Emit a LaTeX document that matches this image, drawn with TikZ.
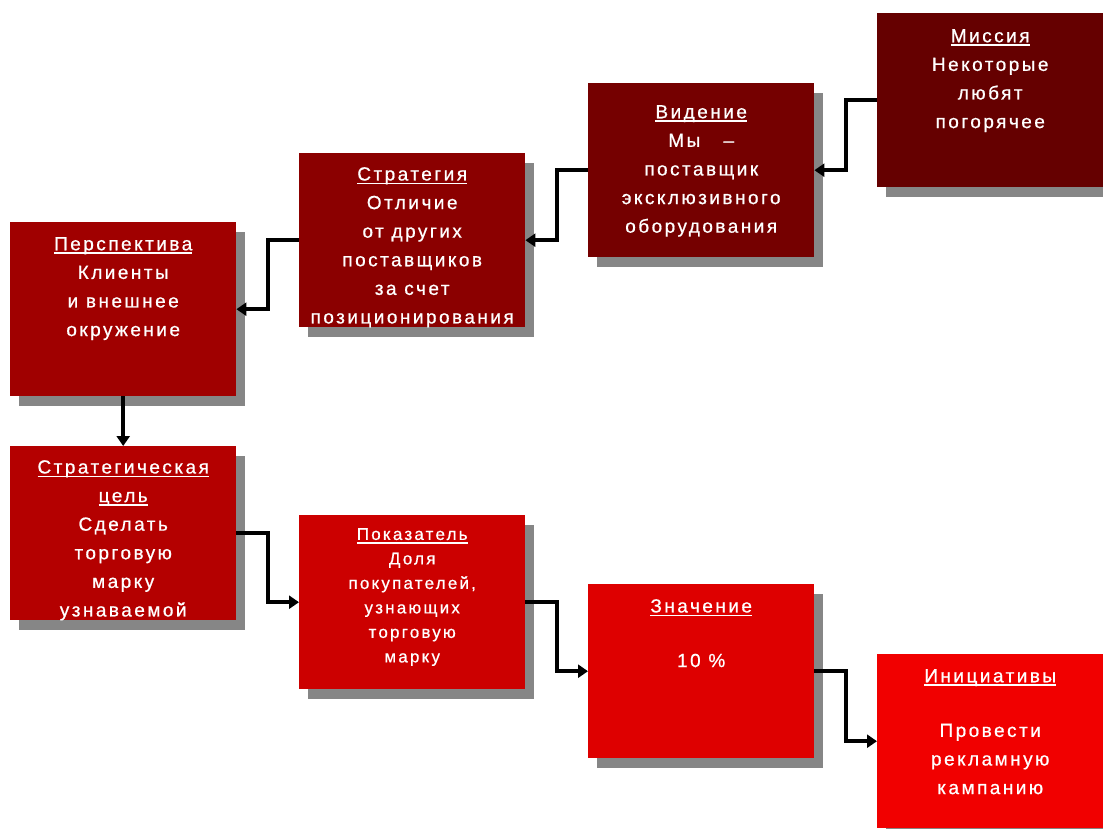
\documentclass[tikz,border=0pt]{standalone}
\usepackage{fontspec}
\setmainfont{Liberation Sans}[LetterSpace=13,FakeBold=0.7]
\usetikzlibrary{arrows.meta,shadows,calc}

\definecolor{cMis}{RGB}{101,0,0}
\definecolor{cVis}{RGB}{117,0,0}
\definecolor{cStr}{RGB}{139,0,0}
\definecolor{cPer}{RGB}{160,0,0}
\definecolor{cGoal}{RGB}{180,0,0}
\definecolor{cKpi}{RGB}{204,0,0}
\definecolor{cVal}{RGB}{222,0,0}
\definecolor{cIni}{RGB}{241,0,0}
\definecolor{shade}{RGB}{134,134,134}

% underlined heading with a heavier rule
\newcommand\headline[1]{\setbox0\hbox{#1}\rlap{\rule[-4pt]{\wd0}{1.8pt}}\box0}

\tikzset{
  card/.style={anchor=north west, minimum width=226pt, minimum height=174pt,
    inner sep=0pt, draw=none,
    drop shadow={shadow xshift=9pt, shadow yshift=-10pt, fill=shade, opacity=1}},
  cardtext/.style={anchor=north, inner sep=0pt, text=white, align=center,
    font=\fontsize{19pt}{28.6pt}\selectfont},
  smalltext/.style={cardtext, font=\fontsize{17pt}{24.5pt}\selectfont},
  link/.style={line width=3.6pt, -{Triangle[length=10pt,width=13pt]}},
}

\begin{document}
\begin{tikzpicture}[x=1pt,y=-1pt]
\useasboundingbox (0,0) rectangle (1103,828);

% boxes
\node[card, fill=cMis]  (mis)  at (877,13)  {};
\node[card, fill=cVis]  (vis)  at (588,83)  {};
\node[card, fill=cStr]  (str)  at (299,153) {};
\node[card, fill=cPer]  (per)  at (10,222)  {};
\node[card, fill=cGoal] (goal) at (10,446)  {};
\node[card, fill=cKpi]  (kpi)  at (299,515) {};
\node[card, fill=cVal]  (val)  at (588,584) {};
\node[card, fill=cIni]  (ini)  at (877,654) {};

% texts
\node[cardtext] (misT) at ([yshift=-16pt]mis.north)
  {\headline{Миссия}\\Некоторые\\любят\\погорячее};
\node[cardtext] (visT) at ([yshift=-22pt]vis.north)
  {\headline{Видение}\\Мы~~~–\\поставщик\\эксклюзивного\\оборудования};
\node[cardtext] (strT) at ([yshift=-14pt]str.north)
  {\headline{Стратегия}\\Отличие\\от других\\поставщиков\\за счет\\позиционирования};
\node[cardtext] (perT) at ([yshift=-15pt]per.north)
  {\headline{Перспектива}\\Клиенты\\и внешнее\\окружение};
\node[cardtext] (goalT) at ([yshift=-14pt]goal.north)
  {\headline{Стратегическая}\\\headline{цель}\\Сделать\\торговую\\марку\\узнаваемой};
\node[smalltext] (kpiT) at ([yshift=-13pt]kpi.north)
  {\headline{Показатель}\\Доля\\покупателей,\\узнающих\\торговую\\марку};
\node[cardtext] (valT) at ([yshift=-15pt]val.north)
  {\headline{Значение}\\[26pt]10~\%};
\node[cardtext] (iniT) at ([yshift=-15pt]ini.north)
  {\headline{Инициативы}\\[26pt]Провести\\рекламную\\кампанию};

% connectors
\draw[link] (mis.west) -| ($(mis.west)!.5!(vis.east)$) |- (vis.east);
\draw[link] (vis.west) -| ($(vis.west)!.5!(str.east)$) |- (str.east);
\draw[link] (str.west) -| ($(str.west)!.5!(per.east)$) |- (per.east);
\draw[link] (per.south) -- (goal.north);
\draw[link] (goal.east) -| ($(goal.east)!.5!(kpi.west)$) |- (kpi.west);
\draw[link] (kpi.east) -| ($(kpi.east)!.5!(val.west)$) |- (val.west);
\draw[link] (val.east) -| ($(val.east)!.5!(ini.west)$) |- (ini.west);
\end{tikzpicture}
\end{document}
